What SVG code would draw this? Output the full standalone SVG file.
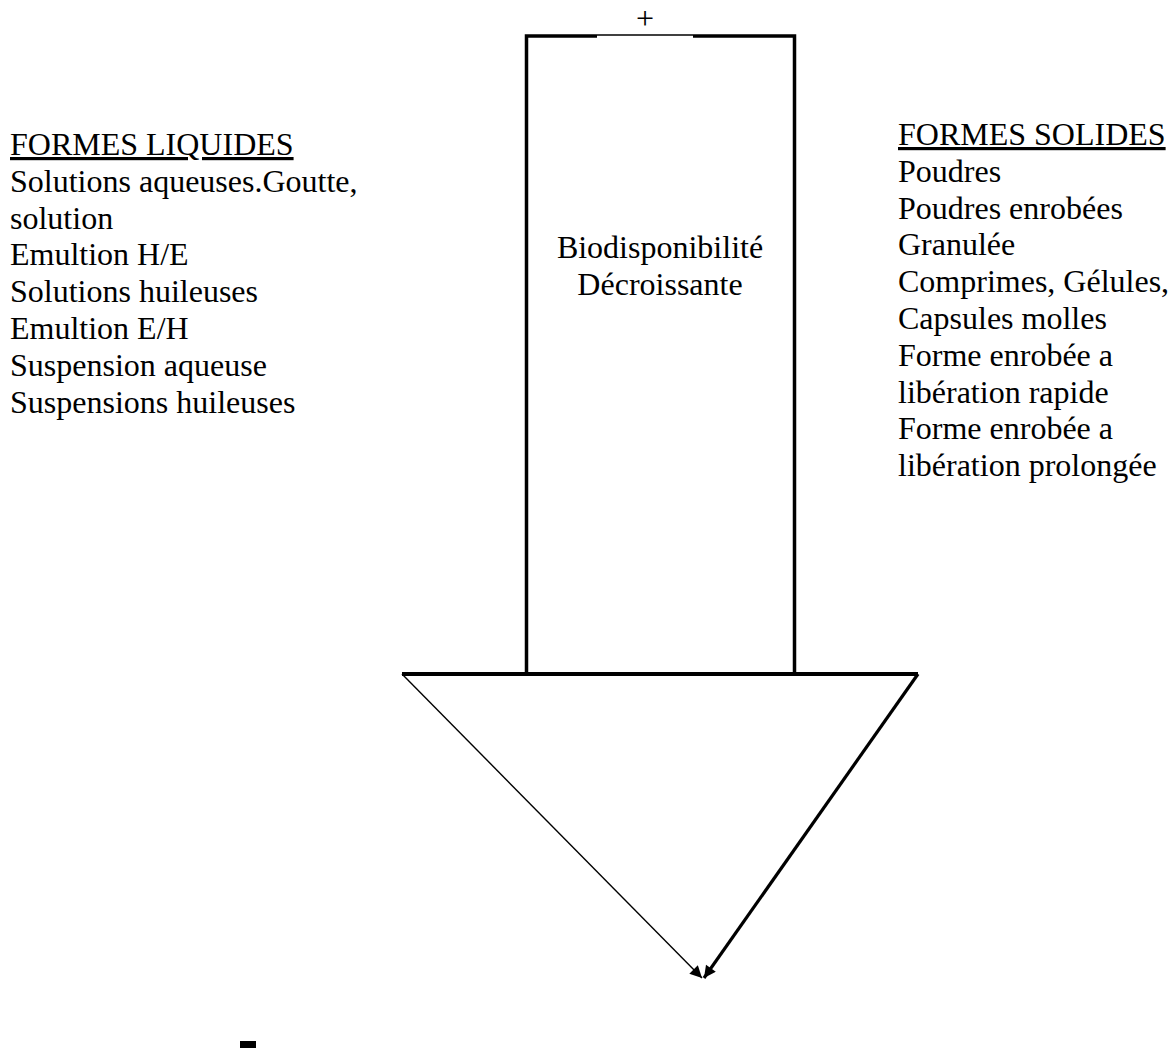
<svg xmlns="http://www.w3.org/2000/svg" width="1174" height="1048" viewBox="0 0 1174 1048">
<style>
.t{font-family:'Liberation Serif','Times New Roman',serif;font-size:32px;fill:#000}
.u{text-decoration:underline}
.s{stroke:#000;fill:none}
</style>
<defs>
<marker id="ah" viewBox="0 0 10 10" refX="10" refY="5" markerWidth="17" markerHeight="12" markerUnits="userSpaceOnUse" orient="auto">
<path d="M0,0 L10,5 L0,10 z" fill="#000"/>
</marker>
</defs>
<rect width="1174" height="1048" fill="#fff"/>
<g id="arrow">
<path class="s" d="M597,36 L526.5,36 L526.5,674" stroke-width="3.5"/>
<path class="s" d="M693,36 L794.5,36 L794.5,674" stroke-width="3.5"/>
<path class="s" d="M597,35 L693,35" stroke-width="1.4"/>
<path class="s" d="M402,674 L918,674" stroke-width="4"/>
</g>
<g id="connectors">
<line x1="402" y1="674" x2="702" y2="978" class="s" stroke-width="1.4" marker-end="url(#ah)"/>
<line x1="918" y1="674" x2="704" y2="978" class="s" stroke-width="3.2" marker-end="url(#ah)"/>
</g>
<g id="plus"><text class="t" x="645" y="29" text-anchor="middle">+</text></g>
<g id="minus"><rect x="240" y="1041" width="16" height="7" fill="#000"/></g>
<g id="center-label">
<text class="t" x="660" y="258" text-anchor="middle">Biodisponibilité</text>
<text class="t" x="660" y="295" text-anchor="middle">Décroissante</text>
</g>
<g id="liquides">
<text class="t u" x="10" y="155">FORMES LIQUIDES</text>
<text class="t" x="10" y="192">Solutions aqueuses.Goutte,</text>
<text class="t" x="10" y="229">solution</text>
<text class="t" x="10" y="265">Emultion H/E</text>
<text class="t" x="10" y="302">Solutions huileuses</text>
<text class="t" x="10" y="339">Emultion E/H</text>
<text class="t" x="10" y="376">Suspension aqueuse</text>
<text class="t" x="10" y="413">Suspensions huileuses</text>
</g>
<g id="solides">
<text class="t u" x="898" y="145">FORMES SOLIDES</text>
<text class="t" x="898" y="182">Poudres</text>
<text class="t" x="898" y="219">Poudres enrobées</text>
<text class="t" x="898" y="255">Granulée</text>
<text class="t" x="898" y="292">Comprimes, Gélules,</text>
<text class="t" x="898" y="329">Capsules molles</text>
<text class="t" x="898" y="366">Forme enrobée a</text>
<text class="t" x="898" y="403">libération rapide</text>
<text class="t" x="898" y="439">Forme enrobée a</text>
<text class="t" x="898" y="476">libération prolongée</text>
</g>
</svg>
